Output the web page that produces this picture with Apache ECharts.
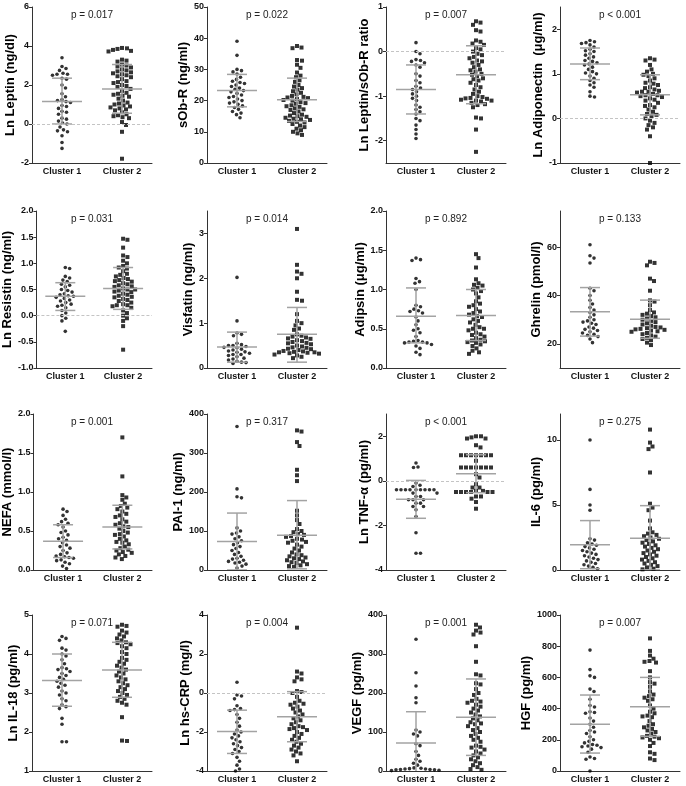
<!DOCTYPE html>
<html><head><meta charset="utf-8">
<script src="https://cdn.jsdelivr.net/npm/echarts@6/dist/echarts.min.js"></script>
<style>html,body{margin:0;padding:0;background:#fff}#c{width:686px;height:786px}</style>
</head><body><div id="c"></div>
<script>
// ---------- DATA ----------
const categories = ['Cluster 1', 'Cluster 2'];
const yNames = ['Ln Leptin (ng/dl)', 'sOb-R (ng/ml)', 'Ln Leptin/sOb-R ratio', 'Ln Adiponectin  (\u03bcg/ml)',
  'Ln Resistin (ng/ml)', 'Visfatin (ng/ml)', 'Adipsin (\u03bcg/ml)', 'Ghrelin (pmol/l)',
  'NEFA (mmol/l)', 'PAI-1 (ng/ml)', 'Ln TNF-\u03b1 (pg/ml)', 'IL-6 (pg/ml)',
  'Ln IL-18 (pg/ml)', 'Ln hs-CRP (mg/l)', 'VEGF (pg/ml)', 'HGF (pg/ml)'];
const pValues = ['p = 0.017', 'p = 0.022', 'p = 0.007', 'p < 0.001',
  'p = 0.031', 'p = 0.014', 'p = 0.892', 'p = 0.133',
  'p = 0.001', 'p = 0.317', 'p < 0.001', 'p = 0.275',
  'p = 0.071', 'p = 0.004', 'p = 0.001', 'p = 0.007'];
const yMins = [-2, 0, -2.5, -1, -1, 0, 0, 10, 0, 0, -4, 0, 1, -4, 0, 0];
const yMaxs = [6, 50, 1, 2.5, 2, 3.5, 2, 75, 2, 400, 3, 12, 5, 4, 400, 1000];
const yTicks = [
  [-2, 0, 2, 4, 6], [0, 10, 20, 30, 40, 50], [-2, -1, 0, 1], [-1, 0, 1, 2],
  [-1, -0.5, 0, 0.5, 1, 1.5, 2], [0, 1, 2, 3], [0, 0.5, 1, 1.5, 2], [20, 40, 60],
  [0, 0.5, 1, 1.5, 2], [0, 100, 200, 300, 400], [-4, -2, 0, 2], [0, 5, 10],
  [1, 2, 3, 4, 5], [-4, -2, 0, 2, 4], [0, 100, 200, 300, 400], [0, 200, 400, 600, 800, 1000]];
const tickDecimals = [0, 0, 0, 0, 1, 0, 1, 0, 1, 0, 0, 0, 0, 0, 0, 0];
const zeroLine = [true, false, true, true, true, false, false, false, false, false, true, false, false, true, false, false];

const leptin1 = [3.4, 2.95, 2.85, 2.75, 2.6, 2.55, 2.55, 2.5, 2.35, 2.3, 2.0, 1.85, 1.55, 1.4, 1.25, 1.2, 1.15, 1.1, 0.95, 0.9, 0.8, 0.65, 0.6, 0.5, 0.3, 0.25, 0.15, 0.05, 0.0, -0.15, -0.3, -0.35, -0.4, -0.6, -0.95, -1.25];
const leptin2 = [3.9, 3.88, 3.85, 3.8, 3.75, 3.72, 3.3, 3.25, 3.2, 3.05, 3.0, 2.95, 2.9, 2.8, 2.75, 2.7, 2.65, 2.6, 2.55, 2.5, 2.45, 2.4, 2.3, 2.2, 2.15, 2.1, 2.0, 1.95, 1.9, 1.8, 1.7, 1.6, 1.55, 1.5, 1.45, 1.4, 1.3, 1.2, 1.1, 1.05, 1.0, 0.95, 0.9, 0.85, 0.8, 0.75, 0.7, 0.6, 0.5, 0.45, 0.4, 0.35, 0.3, 0.1, -0.05, -0.4, -1.78];
const sobr1 = [39, 34.5, 30, 29.6, 29.2, 28.5, 27.5, 26.8, 26.2, 25.8, 25.5, 25, 24.5, 24, 23.6, 23.2, 22.8, 22.3, 21.8, 21.3, 21, 20.5, 20, 19.6, 19.2, 18.8, 18.3, 17.8, 17.2, 16.5, 16, 15.5, 14.5];
const sobr2 = [37.5, 37, 36.8, 33, 32.8, 31.5, 30.5, 29, 28, 27.5, 26.5, 26, 25, 24.5, 24, 23.5, 23, 22.5, 22, 21.5, 21.2, 21, 20.8, 20.5, 20.2, 20, 19.5, 19.2, 19, 18.5, 18.2, 18, 17.5, 17.2, 17, 16.5, 16, 15.5, 15.2, 15, 14.8, 14.5, 14.2, 14, 13.8, 13.5, 13.2, 13, 12.5, 12, 11.5, 11, 10.5, 10, 9.5, 9];
const ratio1 = [0.2, 0.0, -0.05, -0.18, -0.2, -0.22, -0.25, -0.3, -0.35, -0.5, -0.55, -0.65, -0.7, -0.78, -0.82, -0.85, -0.9, -0.95, -1.0, -1.05, -1.1, -1.2, -1.25, -1.3, -1.35, -1.4, -1.5, -1.55, -1.65, -1.75, -1.85, -1.95];
const ratio2 = [0.68, 0.65, 0.6, 0.48, 0.45, 0.25, 0.22, 0.18, 0.15, 0.08, 0.05, 0.0, -0.05, -0.08, -0.12, -0.15, -0.2, -0.22, -0.25, -0.3, -0.35, -0.4, -0.42, -0.45, -0.5, -0.52, -0.55, -0.6, -0.62, -0.65, -0.7, -0.75, -0.8, -0.85, -0.9, -0.95, -1.0, -1.02, -1.04, -1.05, -1.06, -1.08, -1.1, -1.1, -1.12, -1.15, -1.18, -1.2, -1.25, -1.48, -1.5, -1.75, -2.25];
const adipo1 = [1.75, 1.72, 1.7, 1.68, 1.65, 1.6, 1.55, 1.52, 1.5, 1.45, 1.42, 1.38, 1.35, 1.3, 1.28, 1.25, 1.22, 1.2, 1.15, 1.1, 1.05, 1.02, 1.0, 0.95, 0.9, 0.85, 0.8, 0.75, 0.7, 0.6, 0.5, 0.48];
const adipo2 = [1.35, 1.32, 1.3, 1.2, 1.1, 1.05, 1.0, 0.98, 0.95, 0.9, 0.85, 0.8, 0.78, 0.75, 0.7, 0.68, 0.65, 0.62, 0.6, 0.6, 0.58, 0.55, 0.52, 0.52, 0.5, 0.48, 0.45, 0.42, 0.4, 0.35, 0.3, 0.28, 0.25, 0.2, 0.15, 0.1, 0.08, 0.05, 0.0, -0.05, -0.1, -0.15, -0.2, -0.25, -0.4, -1.0];
const resistin1 = [0.92, 0.9, 0.75, 0.72, 0.68, 0.65, 0.6, 0.58, 0.55, 0.5, 0.48, 0.45, 0.42, 0.4, 0.38, 0.37, 0.35, 0.33, 0.3, 0.28, 0.25, 0.22, 0.2, 0.18, 0.15, 0.1, 0.05, 0.0, -0.05, -0.1, -0.3];
const resistin2 = [1.47, 1.45, 1.3, 1.15, 1.12, 1.05, 1.0, 0.95, 0.92, 0.9, 0.85, 0.8, 0.78, 0.75, 0.72, 0.7, 0.68, 0.66, 0.65, 0.62, 0.6, 0.58, 0.56, 0.55, 0.52, 0.5, 0.5, 0.48, 0.46, 0.45, 0.42, 0.4, 0.38, 0.36, 0.35, 0.32, 0.3, 0.28, 0.25, 0.22, 0.2, 0.2, 0.18, 0.15, 0.1, 0.05, 0.0, -0.05, -0.1, -0.2, -0.65];
const visfatin1 = [2.02, 1.05, 0.78, 0.75, 0.72, 0.55, 0.52, 0.5, 0.5, 0.48, 0.46, 0.45, 0.42, 0.4, 0.38, 0.36, 0.35, 0.33, 0.3, 0.3, 0.28, 0.25, 0.22, 0.2, 0.18, 0.15, 0.13, 0.12, 0.1];
const visfatin2 = [3.1, 2.3, 2.15, 2.1, 2.0, 1.7, 1.52, 1.5, 1.2, 1.05, 1.0, 0.95, 0.88, 0.85, 0.75, 0.72, 0.7, 0.68, 0.66, 0.65, 0.62, 0.6, 0.58, 0.56, 0.55, 0.53, 0.5, 0.48, 0.46, 0.45, 0.43, 0.42, 0.4, 0.38, 0.37, 0.36, 0.35, 0.35, 0.34, 0.33, 0.32, 0.3, 0.28, 0.25, 0.22];
const adipsin1 = [1.4, 1.38, 1.37, 1.14, 1.1, 1.08, 1.0, 0.8, 0.78, 0.75, 0.73, 0.72, 0.7, 0.65, 0.6, 0.55, 0.5, 0.48, 0.45, 0.4, 0.35, 0.34, 0.33, 0.33, 0.32, 0.32, 0.3, 0.28, 0.25, 0.2, 0.17];
const adipsin2 = [1.45, 1.4, 1.28, 1.13, 1.08, 1.06, 1.05, 1.02, 1.0, 0.98, 0.95, 0.9, 0.85, 0.82, 0.8, 0.78, 0.75, 0.72, 0.7, 0.68, 0.66, 0.65, 0.62, 0.6, 0.58, 0.55, 0.52, 0.5, 0.5, 0.48, 0.45, 0.43, 0.42, 0.4, 0.38, 0.36, 0.35, 0.34, 0.33, 0.32, 0.3, 0.28, 0.25, 0.22, 0.2, 0.18];
const ghrelin1 = [61, 56.5, 55.5, 53.5, 43, 42, 40, 38, 36.5, 35, 34, 33, 32, 31, 30, 29.5, 29, 28.5, 28, 27, 26.5, 26, 25.5, 25, 24.5, 24, 23.5, 23, 22, 20.5];
const ghrelin2 = [54, 53.5, 52.5, 47, 46, 42, 38, 37.5, 36, 34, 33, 32.5, 32, 31.5, 31, 30.5, 30, 29.5, 29, 28.5, 28, 27.5, 27, 26.8, 26.5, 26.2, 26, 25.8, 25.5, 25.2, 25, 24.5, 24, 23.5, 23, 22.5, 22, 21.5, 20.5, 19.5];
const nefa1 = [0.78, 0.75, 0.7, 0.65, 0.62, 0.6, 0.58, 0.55, 0.5, 0.48, 0.45, 0.42, 0.4, 0.38, 0.35, 0.32, 0.3, 0.28, 0.25, 0.22, 0.2, 0.18, 0.17, 0.16, 0.15, 0.13, 0.12, 0.1, 0.08, 0.05, 0.02];
const nefa2 = [1.7, 1.2, 0.96, 0.93, 0.9, 0.85, 0.82, 0.8, 0.78, 0.75, 0.72, 0.7, 0.68, 0.65, 0.62, 0.6, 0.58, 0.56, 0.55, 0.53, 0.5, 0.48, 0.46, 0.45, 0.43, 0.4, 0.38, 0.36, 0.35, 0.33, 0.3, 0.28, 0.26, 0.25, 0.23, 0.22, 0.2, 0.18, 0.16, 0.14];
const pai1 = [368, 208, 188, 185, 108, 100, 95, 92, 85, 80, 75, 70, 65, 60, 55, 50, 45, 40, 35, 30, 28, 25, 22, 20, 18, 15, 10, 5];
const pai2 = [358, 355, 328, 318, 257, 243, 228, 152, 140, 128, 118, 105, 100, 97, 92, 90, 87, 85, 80, 78, 75, 72, 70, 65, 60, 55, 50, 45, 40, 38, 35, 32, 30, 28, 25, 22, 20, 18, 15, 12, 10, 8];
const tnf1 = [0.8, 0.62, 0.6, -0.1, -0.2, -0.25, -0.4, -0.4, -0.4, -0.4, -0.4, -0.4, -0.4, -0.4, -0.4, -0.55, -0.55, -0.7, -0.7, -0.85, -0.85, -0.85, -1.0, -1.0, -1.15, -1.15, -1.3, -1.6, -2.33, -3.25, -3.25];
const tnf2 = [2.0, 2.0, 1.95, 1.9, 1.9, 1.6, 1.5, 1.15, 1.15, 1.15, 1.15, 1.15, 1.15, 1.15, 0.9, 0.6, 0.6, 0.6, 0.6, 0.6, 0.6, 0.6, 0.3, 0.15, -0.15, -0.3, -0.3, -0.45, -0.45, -0.5, -0.5, -0.5, -0.5, -0.5, -0.5, -0.7, -0.7, -0.8, -0.95, -1.25];
const il6_1 = [10, 6.2, 5.0, 4.6, 2.4, 2.3, 2.1, 2.0, 1.9, 1.8, 1.7, 1.6, 1.5, 1.4, 1.3, 1.2, 1.1, 1.0, 0.9, 0.8, 0.7, 0.6, 0.5, 0.4, 0.3, 0.2, 0.1];
const il6_2 = [10.8, 9.8, 9.5, 9.3, 7.5, 5.1, 4.8, 4.6, 3.8, 3.2, 2.9, 2.8, 2.7, 2.6, 2.5, 2.4, 2.3, 2.2, 2.1, 2.0, 1.9, 1.8, 1.7, 1.6, 1.5, 1.4, 1.3, 1.2, 1.1, 1.0, 0.9, 0.8, 0.7, 0.6, 0.5, 0.4, 0.3, 0.2, 0.1, 0.05];
const il18_1 = [4.45, 4.4, 4.35, 4.15, 4.1, 4.0, 3.95, 3.85, 3.75, 3.65, 3.62, 3.6, 3.55, 3.5, 3.45, 3.4, 3.35, 3.3, 3.25, 3.2, 3.15, 3.05, 3.0, 2.95, 2.85, 2.8, 2.7, 2.65, 2.6, 2.35, 2.2, 1.75, 1.75];
const il18_2 = [4.75, 4.72, 4.7, 4.6, 4.55, 4.5, 4.45, 4.4, 4.35, 4.3, 4.28, 4.25, 4.2, 4.15, 4.05, 4.0, 3.9, 3.85, 3.8, 3.75, 3.7, 3.65, 3.6, 3.55, 3.5, 3.45, 3.4, 3.35, 3.3, 3.25, 3.2, 3.15, 3.1, 3.05, 3.0, 2.95, 2.9, 2.85, 2.8, 2.75, 2.7, 2.38, 1.78, 1.77];
const crp1 = [0.55, -0.1, -0.15, -0.3, -0.65, -0.8, -0.85, -0.9, -1.1, -1.3, -1.5, -1.7, -1.9, -2.0, -2.1, -2.2, -2.3, -2.4, -2.5, -2.6, -2.7, -2.8, -2.9, -3.0, -3.1, -3.3, -3.5, -3.7, -3.9, -4.0];
const crp2 = [3.35, 1.1, 1.0, 0.8, 0.7, 0.6, 0.1, 0.05, 0.0, -0.2, -0.4, -0.5, -0.55, -0.6, -0.7, -0.8, -0.9, -1.0, -1.1, -1.2, -1.3, -1.4, -1.5, -1.6, -1.7, -1.75, -1.8, -1.85, -1.9, -2.0, -2.1, -2.2, -2.3, -2.4, -2.5, -2.6, -2.7, -2.8, -2.9, -3.0, -3.1, -3.2, -3.5];
const vegf1 = [338, 252, 218, 188, 175, 105, 100, 95, 90, 70, 65, 50, 40, 30, 25, 20, 15, 8, 7, 6, 5, 5, 4, 4, 3, 3, 2, 1];
const vegf2 = [375, 368, 360, 355, 350, 320, 280, 248, 245, 225, 222, 210, 200, 195, 185, 180, 178, 175, 170, 165, 160, 155, 150, 145, 140, 135, 130, 125, 122, 120, 115, 110, 105, 100, 95, 90, 85, 80, 75, 65, 62, 60, 55, 50, 45, 40, 35, 30, 25, 20, 15, 10, 5, 3];
const hgf1 = [775, 650, 610, 600, 525, 510, 460, 420, 410, 380, 375, 370, 340, 320, 300, 280, 260, 250, 240, 220, 200, 190, 180, 170, 165, 160, 155, 150, 140, 120, 90, 80, 75, 0];
const hgf2 = [850, 770, 740, 720, 705, 700, 695, 640, 600, 570, 560, 540, 510, 490, 480, 470, 460, 450, 420, 400, 380, 370, 355, 350, 345, 320, 300, 290, 280, 270, 260, 250, 240, 225, 220, 215, 210, 200, 180, 160, 120, 110, 80, 70];

const cluster1 = [leptin1, sobr1, ratio1, adipo1, resistin1, visfatin1, adipsin1, ghrelin1, nefa1, pai1, tnf1, il6_1, il18_1, crp1, vegf1, hgf1];
const cluster2 = [leptin2, sobr2, ratio2, adipo2, resistin2, visfatin2, adipsin2, ghrelin2, nefa2, pai2, tnf2, il6_2, il18_2, crp2, vegf2, hgf2];
// mean and +/- SD whiskers as drawn
const mean1 = [1.15, 23.2, -0.85, 1.22, 0.37, 0.47, 0.66, 33.3, 0.37, 73, -0.83, 1.95, 3.32, -1.98, 72, 300];
const sdHigh1 = [2.35, 28.4, -0.3, 1.58, 0.63, 0.8, 1.02, 43.3, 0.58, 146, 0.02, 3.8, 4.0, -0.88, 152, 487];
const sdLow1 = [0.0, 18.0, -1.4, 0.87, 0.1, 0.13, 0.32, 23.2, 0.16, 0, -1.68, 0.1, 2.66, -3.1, -8, 115];
const mean2 = [1.8, 20.3, -0.52, 0.53, 0.52, 0.75, 0.67, 30.2, 0.55, 89, 0.32, 2.45, 3.59, -1.22, 138, 412];
const sdHigh2 = [3.05, 27.2, 0.13, 0.98, 0.92, 1.35, 1.0, 38.1, 0.83, 178, 1.17, 4.95, 4.3, 0.07, 236, 600];
const sdLow2 = [0.55, 13.3, -1.17, 0.08, 0.12, 0.13, 0.35, 22.3, 0.27, 3, -0.53, 0.0, 2.89, -2.5, 40, 222];

// ---------- LAYOUT ----------
const colLeft = [32, 207, 386, 560];
const colWidth = 120;
const rowTop = [7, 211, 414, 615];
const rowBottom = [163, 368, 570, 771];
const nameGaps = [12, 8, 8, 8, 15, 8, 19, 10, 14, 15, 13, 12, 8, 6, 18, 17];
const FONT = 'Liberation Sans, Arial, Helvetica, sans-serif';

function swarm(values, pxPerUnit, minDist) {
  const order = values.map((v, i) => i).sort((a, b) => values[b] - values[a]);
  const placed = [];
  const out = new Array(values.length);
  for (const i of order) {
    const y = values[i] * pxPerUnit;
    let best = 0;
    for (let s = 0; s < 200; s++) {
      const cand = s === 0 ? 0 : (s % 2 ? 1 : -1) * Math.ceil(s / 2) * 0.5;
      let ok = true;
      for (const p of placed) {
        const dx = p.x - cand, dy = p.y - y;
        if (dx * dx + dy * dy < minDist * minDist) { ok = false; break; }
      }
      if (ok) { best = cand; break; }
    }
    placed.push({ x: best, y: y });
    out[i] = best;
  }
  return out;
}

const grids = [], xAxes = [], yAxes = [], series = [], graphics = [];
for (let i = 0; i < 16; i++) {
  const r = Math.floor(i / 4), c = i % 4;
  const top = rowTop[r], h = rowBottom[r] - rowTop[r];
  grids.push({ left: colLeft[c], top: top, width: colWidth, height: h });
  xAxes.push({
    gridIndex: i, type: 'category', data: categories, boundaryGap: true, position: 'bottom',
    axisLine: { onZero: false, lineStyle: { color: '#333', width: 1 } },
    axisTick: { alignWithLabel: true, length: 3, lineStyle: { color: '#333' } },
    axisLabel: { color: '#111', fontSize: 9, fontWeight: 'bold', fontFamily: FONT, margin: 4 },
    splitLine: { show: false }
  });
  xAxes.push({ gridIndex: i, type: 'value', min: -0.5, max: 1.5, show: false,
    axisLine: { onZero: false }, splitLine: { show: false } });
  const dec = tickDecimals[i];
  yAxes.push({
    gridIndex: i, type: 'value', min: yMins[i], max: yMaxs[i], position: 'left',
    name: yNames[i], nameLocation: 'middle', nameRotate: 90, nameGap: nameGaps[i],
    nameTextStyle: { fontSize: 13, fontWeight: 'bold', fontFamily: FONT, color: '#000' },
    axisLine: { show: true, onZero: false, lineStyle: { color: '#333', width: 1 } },
    axisTick: { show: true, length: 3, customValues: yTicks[i], lineStyle: { color: '#333' } },
    axisLabel: { customValues: yTicks[i], color: '#111', fontSize: 9, fontWeight: 'bold', fontFamily: FONT, margin: 3,
      formatter: v => Number(v).toFixed(dec) },
    splitLine: { show: false }
  });
  const pxPerUnit = h / (yMaxs[i] - yMins[i]);
  const unitPerPx = 2 / colWidth;
  const off1 = swarm(cluster1[i], pxPerUnit, 4.4);
  const off2 = swarm(cluster2[i], pxPerUnit, 4.6);
  const s1 = {
    type: 'scatter', xAxisIndex: 2 * i + 1, yAxisIndex: i, symbol: 'circle', symbolSize: 3.6,
    itemStyle: { color: '#000' }, silent: true, z: 3,
    data: cluster1[i].map((v, k) => [off1[k] * unitPerPx, v])
  };
  if (zeroLine[i]) {
    s1.markLine = { silent: true, symbol: ['none', 'none'], label: { show: false },
      lineStyle: { type: [3, 2], color: '#c4c4c4', width: 1 },
      data: [{ yAxis: 0, lineStyle: { type: [3, 2], color: '#c4c4c4', width: 1 } }] };
  }
  series.push(s1);
  series.push({
    type: 'scatter', xAxisIndex: 2 * i + 1, yAxisIndex: i, symbol: 'rect', symbolSize: 4,
    itemStyle: { color: '#000' }, silent: true, z: 3,
    data: cluster2[i].map((v, k) => [1 + off2[k] * unitPerPx, v])
  });
  series.push({
    type: 'custom', xAxisIndex: 2 * i + 1, yAxisIndex: i, silent: true, z: 4, clip: true,
    data: [[0, mean1[i], sdHigh1[i], sdLow1[i]], [1, mean2[i], sdHigh2[i], sdLow2[i]]],
    encode: { x: 0, y: 1 },
    renderItem: function (params, api) {
      const x = api.value(0);
      const pm = api.coord([x, api.value(1)]);
      const ph = api.coord([x, api.value(2)]);
      const pl = api.coord([x, api.value(3)]);
      const st = { stroke: '#a3a3a3', lineWidth: 1.5 };
      return { type: 'group', children: [
        { type: 'line', shape: { x1: pm[0], y1: ph[1], x2: pm[0], y2: pl[1] }, style: st },
        { type: 'line', shape: { x1: pm[0] - 20, y1: pm[1], x2: pm[0] + 20, y2: pm[1] }, style: st },
        { type: 'line', shape: { x1: pm[0] - 10, y1: ph[1], x2: pm[0] + 10, y2: ph[1] }, style: st },
        { type: 'line', shape: { x1: pm[0] - 10, y1: pl[1], x2: pm[0] + 10, y2: pl[1] }, style: st }
      ] };
    }
  });
  graphics.push({
    type: 'text', x: colLeft[c] + colWidth / 2, y: top + 8, z: 10,
    style: { text: pValues[i], fontSize: 10, fontFamily: FONT, fill: '#222',
      textAlign: 'center', textVerticalAlign: 'middle', align: 'center', verticalAlign: 'middle' }
  });
}

const chart = echarts.init(document.getElementById('c'), null, { renderer: 'canvas' });
chart.setOption({
  animation: false,
  backgroundColor: '#fff',
  grid: grids, xAxis: xAxes, yAxis: yAxes, series: series, graphic: graphics
});
</script></body></html>
